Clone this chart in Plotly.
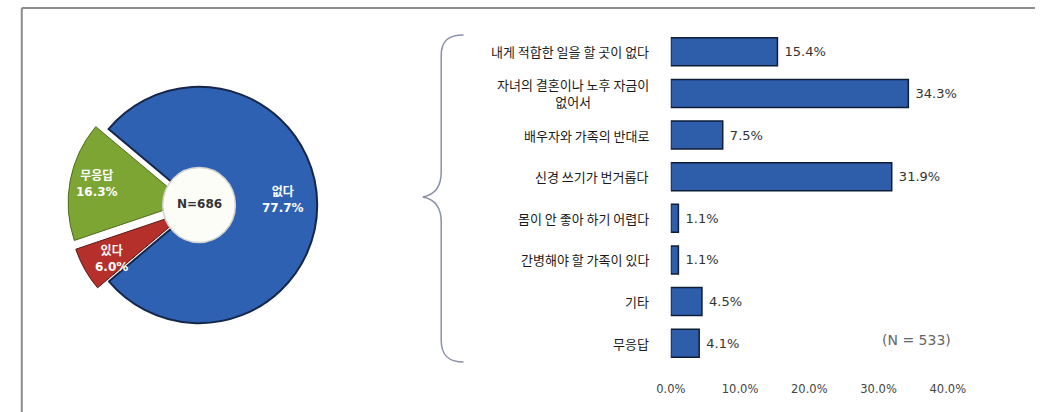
import plotly.graph_objects as go

W, H = 1053, 412

# ---- data ----
pie_labels = ["없다", "있다", "무응답"]
pie_values = [77.7, 6.0, 16.3]
pie_colors = ["#2F61B2", "#B5302B", "#7CA533"]
pie_total_label = "N=686"

bar_labels = [
    "내게 적합한 일을 할 곳이 없다",
    "자녀의 결혼이나 노후 자금이<br>없어서",
    "배우자와 가족의 반대로",
    "신경 쓰기가 번거롭다",
    "몸이 안 좋아 하기 어렵다",
    "간병해야 할 가족이 있다",
    "기타",
    "무응답",
]
bar_values = [15.4, 34.3, 7.5, 31.9, 1.1, 1.1, 4.5, 4.1]
bar_total_label = "(N = 533)"
x_ticks = [0, 10, 20, 30, 40]
x_tick_text = ["0.0%", "10.0%", "20.0%", "30.0%", "40.0%"]


def px(x):
    return x / W


def py(y):
    return 1 - y / H


KFONT = "Noto Sans CJK KR"
NFONT = "DejaVu Sans, Noto Sans CJK KR"

fig = go.Figure()

# ---- pie ----
cx, cy, r_out, pull = 190, 205, 122, 0.11
half = r_out * (1 + pull)
fig.add_trace(go.Pie(
    labels=pie_labels, values=pie_values, sort=False,
    direction="clockwise", rotation=-50,
    pull=[0, pull, pull],
    marker=dict(colors=pie_colors,
                line=dict(color=["#14274a", "#5a1512", "#4e6d1c"], width=[2, 1, 1])),
    textinfo="none", hoverinfo="label+value", showlegend=False,
    domain=dict(x=[px(cx - half), px(cx + half)], y=[py(cy + half), py(cy - half)]),
))

# ---- bars ----
fig.add_trace(go.Bar(
    x=bar_values, y=list(range(len(bar_values))), orientation="h",
    width=0.67,
    marker=dict(color="#2E5DAA", line=dict(color="#0f1d38", width=1.5)),
    text=[f" {v:.1f}%" for v in bar_values], textposition="outside",
    textfont=dict(family=NFONT, size=13, color="#333333"),
    cliponaxis=False, showlegend=False,
    xaxis="x", yaxis="y",
))

shapes = []
# frame (top & left)
shapes.append(dict(type="line", xref="paper", yref="paper",
                   x0=px(7), x1=1, y0=py(8), y1=py(8),
                   line=dict(color="#8c8c8c", width=2)))
shapes.append(dict(type="line", xref="paper", yref="paper",
                   x0=px(7), x1=px(7), y0=py(8), y1=0,
                   line=dict(color="#8c8c8c", width=2)))
# centre circle
rc = 37.5
shapes.append(dict(type="circle", xref="paper", yref="paper", layer="above",
                   x0=px(cx - rc), x1=px(cx + rc), y0=py(cy + rc), y1=py(cy - rc),
                   fillcolor="#fdfdf8", line=dict(color="#d4d4d0", width=1.5)))


# brace
def P(x, y):
    return f"{px(x):.5f},{py(y):.5f}"


brace = (f"M {P(463,35)} C {P(448,35)} {P(440,40)} {P(440,56)} "
         f"L {P(440,172)} C {P(440,188)} {P(432,195)} {P(421,197)} "
         f"C {P(432,199)} {P(440,206)} {P(440,222)} "
         f"L {P(440,340)} C {P(440,356)} {P(448,362)} {P(463,362)}")
shapes.append(dict(type="path", xref="paper", yref="paper", path=brace,
                   line=dict(color="#8a90a8", width=1.5)))

annotations = []
# pie labels
pie_pos = [(277, 199), (100, 258), (85, 184)]
for lab, val, (x, y) in zip(pie_labels, pie_values, pie_pos):
    annotations.append(dict(xref="paper", yref="paper", x=px(x), y=py(y),
                            xanchor="center", yanchor="middle",
                            text=f"<b>{lab}<br>{val:.1f}%</b>", showarrow=False,
                            font=dict(family=NFONT, size=12, color="white"),
                            align="center"))
annotations.append(dict(xref="paper", yref="paper", x=px(cx), y=py(cy - 1),
                        xanchor="center", yanchor="middle",
                        text=f"<b>{pie_total_label}</b>", showarrow=False,
                        font=dict(family=NFONT, size=12, color="#333333")))
# category labels
for i, lab in enumerate(bar_labels):
    annotations.append(dict(xref="paper", yref="y", x=px(657), y=i,
                            xanchor="right", yanchor="middle", align="center",
                            text=lab, showarrow=False,
                            font=dict(family=KFONT, size=13, color="#1a1a1a")))
annotations.append(dict(xref="paper", yref="paper", x=px(931), y=py(340),
                        xanchor="center", yanchor="middle",
                        text=bar_total_label, showarrow=False,
                        font=dict(family=NFONT, size=14, color="#666666")))

fig.update_layout(
    width=W, height=H,
    margin=dict(l=0, r=0, t=0, b=0),
    paper_bgcolor="white", plot_bgcolor="white",
    font=dict(family=KFONT),
    xaxis=dict(domain=[px(677), px(963)], range=[0, 40],
               tickvals=x_ticks, ticktext=x_tick_text,
               showgrid=False, zeroline=False, showline=False,
               ticks="outside", ticklen=14, tickcolor="rgba(0,0,0,0)",
               tickfont=dict(family=NFONT, size=11.5, color="#444444")),
    yaxis=dict(domain=[py(364), py(31)], range=[7.5, -0.5],
               showticklabels=False, showgrid=False, zeroline=False,
               showline=False),
    shapes=shapes, annotations=annotations,
)

fig.write_html("out.html")
